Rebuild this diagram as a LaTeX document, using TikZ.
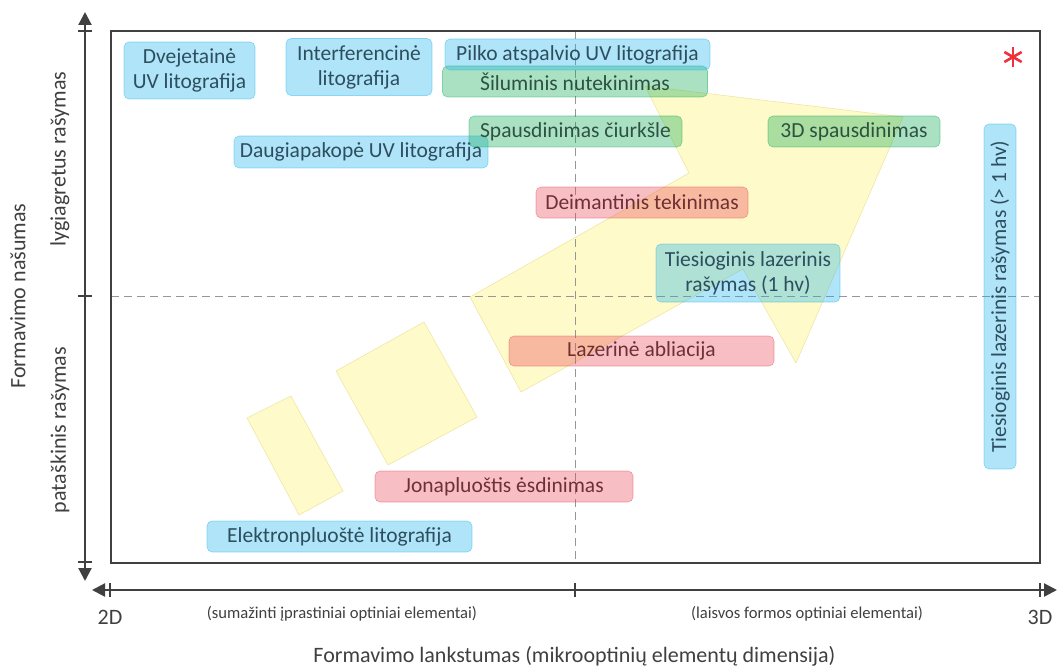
\documentclass[tikz,border=0pt]{standalone}
\usepackage{fontspec}
\setmainfont{Carlito}
\usetikzlibrary{arrows.meta,calc}
\definecolor{cBlue}{RGB}{29,178,235}
\definecolor{cGreen}{RGB}{12,169,84}
\definecolor{cPink}{RGB}{232,69,84}
\definecolor{cYel}{RGB}{255,241,112}
\definecolor{cYelEdge}{RGB}{235,225,150}
\definecolor{tBlue}{RGB}{45,78,95}
\definecolor{tGreen}{RGB}{45,82,66}
\definecolor{tPink}{RGB}{110,48,52}
\definecolor{axisc}{RGB}{64,64,64}
\definecolor{dashc}{RGB}{150,150,150}
\definecolor{starc}{RGB}{238,50,60}
\tikzset{
  boxbase/.style={rounded corners=5pt, line width=0.6pt, fill opacity=0.35, draw opacity=0.45,
    text opacity=1, font=\fontsize{21.5}{25}\selectfont, align=center, inner sep=0pt},
  bluebox/.style={boxbase, fill=cBlue, draw=cBlue, text=tBlue},
  greenbox/.style={boxbase, fill=cGreen, draw=cGreen, text=tGreen},
  pinkbox/.style={boxbase, fill=cPink, draw=cPink, text=tPink},
  yelshape/.style={fill=cYel, fill opacity=0.38, draw=cYelEdge, draw opacity=0.8, line width=0.6pt},
  axisline/.style={draw=axisc, line width=2.2pt, {Triangle[length=13pt,width=13pt]}-{Triangle[length=13pt,width=13pt]}},
  tickline/.style={draw=axisc, line width=2pt},
  dashline/.style={draw=dashc, line width=0.9pt, dash pattern=on 8pt off 5pt},
  axislabel/.style={text=axisc, font=\fontsize{22}{25}\selectfont, inner sep=0pt},
  smalllabel/.style={text=axisc, font=\fontsize{16.6}{19}\selectfont, inner sep=0pt},
}
\begin{document}
\begin{tikzpicture}[x=1pt,y=-1pt]
\useasboundingbox (0,0) rectangle (1058,666);
% yellow shapes
\path[yelshape] (247,418) -- (291,396) -- (343,491) -- (299,515) -- cycle;
\path[yelshape] (336,371) -- (424,322) -- (477,417) -- (388,465) -- cycle;
\path[yelshape] (470,297) -- (689,173) -- (645,86) -- (903,117) -- (796,363) -- (743,269) -- (521,392) -- cycle;
% frame corners
\coordinate (fTL) at (111,31);
\coordinate (fBR) at (1040,563);
% dashed guides
\coordinate (dvT) at (575,31);
\coordinate (dvB) at (575,563);
\coordinate (dhL) at (111,296);
\coordinate (dhR) at (1040,296);
\draw[dashline] (dvT) -- (dvB);
\draw[dashline] (dhL) -- (dhR);
% frame
\draw[draw=axisc, line width=1.8pt] (fTL) rectangle (fBR);
% boxes
\node[bluebox, minimum width=131, minimum height=57] (b1) at (189.5,70.5) {Dvejetainė\\UV litografija};
\node[bluebox, minimum width=146, minimum height=57] (b2) at (359,67) {Interferencinė\\litografija};
\node[greenbox, minimum width=265, minimum height=31] (b4) at (575,81.5) {Šiluminis nutekinimas};
\node[bluebox, minimum width=265, minimum height=31] (b3) at (577.5,54.5) {Pilko atspalvio UV litografija};
\node[bluebox, minimum width=254, minimum height=32] (b6) at (361,152) {Daugiapakopė UV litografija};
\node[greenbox, minimum width=213, minimum height=31] (b5) at (575.5,131.5) {Spausdinimas čiurkšle};
\node[greenbox, minimum width=172, minimum height=31] (b7) at (854,131.5) {3D spausdinimas};
\node[pinkbox, minimum width=212, minimum height=31] (b8) at (642,202.5) {Deimantinis tekinimas};
\node[bluebox, minimum width=184, minimum height=58] (b9) at (748,273) {Tiesioginis lazerinis\\rašymas (1 hv)};
\node[pinkbox, minimum width=265, minimum height=30] (b10) at (641.5,351) {Lazerinė abliacija};
\node[pinkbox, minimum width=258, minimum height=31] (b11) at (504,486.5) {Jonapluoštis ėsdinimas};
\node[bluebox, minimum width=265, minimum height=31] (b12) at (339.5,536.5) {Elektronpluoštė litografija};
\node[bluebox, rotate=90, minimum width=345, minimum height=32] (b13) at (1000,296.5) {Tiesioginis lazerinis rašymas (> 1 hv)};
% asterisk
\coordinate (st) at (1013,57);
\foreach \a in {90,30,150} \draw[starc, line width=2.6pt] ($(st)+(\a:-10)$) -- ($(st)+(\a:10)$);
% vertical axis
\coordinate (vTip) at (85,12);
\coordinate (vEnd) at (85,581);
\draw[axisline] (vEnd) -- (vTip);
\foreach \yy in {31,296,562} \draw[tickline] (78,\yy) -- (92,\yy);
% horizontal axis
\coordinate (hL) at (92,590);
\coordinate (hR) at (1057,590);
\draw[axisline] (hL) -- (hR);
\foreach \xx in {110,575,1040} \draw[tickline] (\xx,583) -- (\xx,597);
% axis labels
\node[axislabel] (l2d) at (110,617) {2D};
\node[axislabel] (l3d) at (1040,617) {3D};
\node[smalllabel] (lsm) at (342,614) {(sumažinti įprastiniai optiniai elementai)};
\node[smalllabel] (llf) at (807,614) {(laisvos formos optiniai elementai)};
\node[axislabel] (lx) at (574.5,656) {Formavimo lankstumas (mikrooptinių elementų dimensija)};
\node[axislabel, rotate=90] (ly) at (18,296) {Formavimo našumas};
\node[axislabel, rotate=90] (lyp) at (60,159) {lygiagretus rašymas};
\node[axislabel, rotate=90] (lys) at (60,430) {pataškinis rašymas};
\end{tikzpicture}
\end{document}
